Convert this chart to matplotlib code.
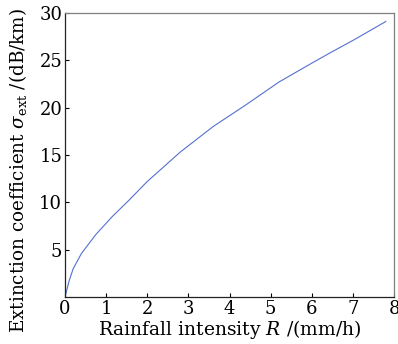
import matplotlib
matplotlib.use("Agg")
import matplotlib.pyplot as plt

rain_R = [0, 0.1, 0.2, 0.4, 0.75, 1.15, 1.55, 2.0, 2.8, 3.6, 4.4, 5.2, 6.0, 6.45, 7.0, 7.8]
sigma_ext = [0, 1.7, 3.0, 4.6, 6.6, 8.5, 10.2, 12.2, 15.3, 18.0, 20.3, 22.7, 24.7, 25.8, 27.1, 29.1]
x_ticks = [0, 1, 2, 3, 4, 5, 6, 7, 8]
y_ticks = [5, 10, 15, 20, 25, 30]

plt.rcParams['font.family'] = ['DejaVu Serif']
plt.rcParams['mathtext.fontset'] = 'dejavuserif'

fig = plt.figure(figsize=(3.98, 3.44), dpi=100)
ax = fig.add_axes([65/398, 1 - 297/344, (394-65)/398, (297-13)/344])
ax.plot(rain_R, sigma_ext, color='#5470d0', linewidth=0.8)
ax.set_xlim(0, 8)
ax.set_ylim(0, 30)
ax.set_xticks(x_ticks)
ax.set_yticks(y_ticks)
ax.tick_params(direction='in', length=3, width=0.8, labelsize=13, pad=2)
for s in ['top', 'right']:
    ax.spines[s].set_color('#808080')
for s in ['left', 'bottom']:
    ax.spines[s].set_color('#222222')
for s in ax.spines.values():
    s.set_linewidth(0.9)
ax.set_xlabel(r"Rainfall intensity $\it{R}$ /(mm/h)", fontsize=13.5, labelpad=0)
ax.set_ylabel(r"Extinction coefficient $\sigma_{\rm ext}$ /(dB/km)", fontsize=13.2)
ax.yaxis.set_label_coords(-0.11, 0.445)
fig.savefig("out.png", dpi=100)
